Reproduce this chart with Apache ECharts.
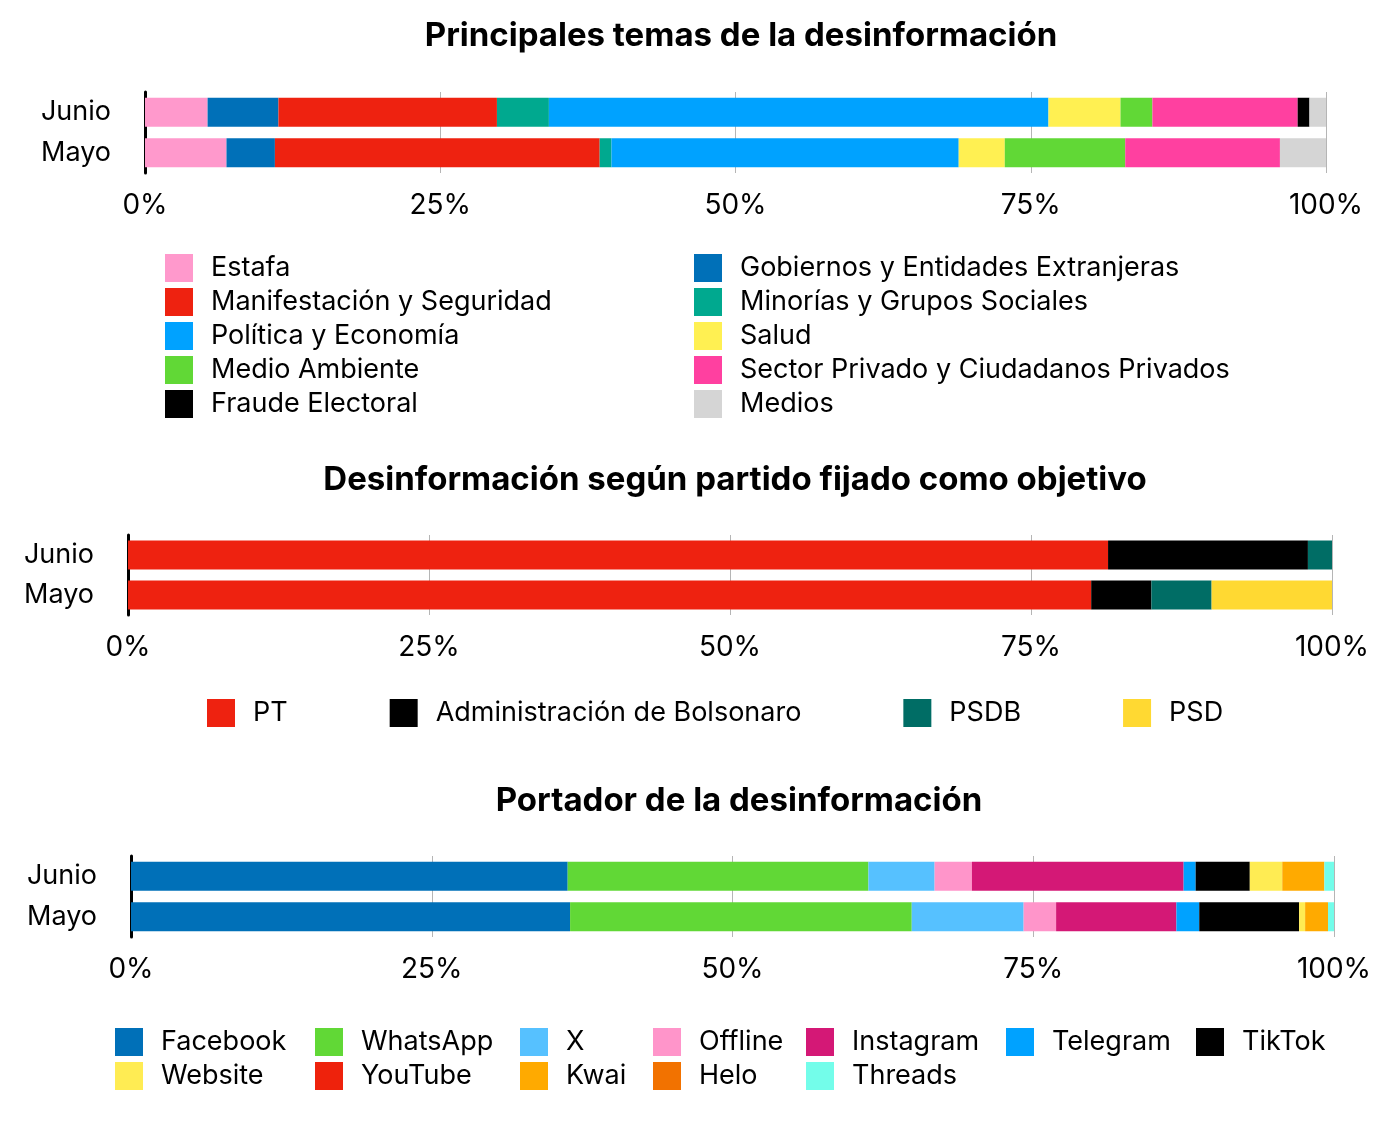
<!DOCTYPE html>
<html>
<head>
<meta charset="utf-8">
<script src="https://cdn.jsdelivr.net/npm/echarts@6/dist/echarts.min.js"></script>
<style>
  html, body { margin: 0; padding: 0; background: #fff; }
  #main { width: 1400px; height: 1122px; }
</style>
</head>
<body>
<div id="main"></div>
<script>
var months = ['Junio', 'Mayo'];
var ticks = [0, 25, 50, 75, 100];

// Principales temas
var temaNames = ['Estafa', 'Gobiernos y Entidades Extranjeras', 'Manifestación y Seguridad',
  'Minorías y Grupos Sociales', 'Política y Economía', 'Salud', 'Medio Ambiente',
  'Sector Privado y Ciudadanos Privados', 'Fraude Electoral', 'Medios'];
var temaColors = ['#ff99cc', '#0070b8', '#ee2210', '#00a98f', '#00a2ff', '#fff052',
  '#61d836', '#ff40a0', '#000000', '#d5d5d5'];
var temaJunio = [5.3, 6.0, 18.5, 4.4, 42.3, 6.1, 2.7, 12.3, 1.0, 1.4];
var temaMayo = [6.9, 4.1, 27.5, 1.0, 29.4, 3.9, 10.2, 13.1, 0, 3.9];

// Partido fijado como objetivo
var partidoNames = ['PT', 'Administración de Bolsonaro', 'PSDB', 'PSD'];
var partidoColors = ['#ee2210', '#000000', '#006d65', '#ffd932'];
var partidoJunio = [81.4, 16.6, 2.0, 0];
var partidoMayo = [80.0, 5.0, 5.0, 10.0];

// Portador
var portadorNames = ['Facebook', 'WhatsApp', 'X', 'Offline', 'Instagram', 'Telegram', 'TikTok',
  'Website', 'YouTube', 'Kwai', 'Helo', 'Threads'];
var portadorColors = ['#0070b8', '#61d836', '#56c1ff', '#ff95ca', '#d41876', '#00a2ff', '#000000',
  '#ffec53', '#ee220c', '#ffaa00', '#f27200', '#73fdea'];
var portadorJunio = [36.3, 25.0, 5.5, 3.1, 17.6, 1.0, 4.5, 2.7, 0, 3.5, 0, 0.8];
var portadorMayo = [36.5, 28.4, 9.3, 2.7, 10.0, 1.9, 8.3, 0.5, 0, 1.9, 0, 0.5];

var FONT = 'Inter';

var dom = document.getElementById('main');
var myChart = echarts.init(dom, null, { renderer: 'canvas' });

function makeXAxis(gridIndex) {
  return {
    type: 'value', gridIndex: gridIndex, min: ticks[0], max: ticks[ticks.length - 1], interval: 25,
    axisLine: { show: false }, axisTick: { show: false },
    splitLine: { show: true, lineStyle: { color: '#b5b5b5', width: 1 } },
    axisLabel: { formatter: '{value}%', fontSize: 28, color: '#000', fontFamily: FONT, margin: 19 }
  };
}
function makeYAxis(gridIndex) {
  return {
    type: 'category', gridIndex: gridIndex, data: months, inverse: true,
    axisTick: { show: false },
    axisLine: { show: true, lineStyle: { color: '#000', width: 3 } },
    axisLabel: { fontSize: 27, color: '#000', fontFamily: FONT, margin: 34 }
  };
}
function makeSeries(names, colors, junio, mayo, idx, stack) {
  return names.map(function (n, i) {
    return {
      name: n, type: 'bar', stack: stack, xAxisIndex: idx, yAxisIndex: idx,
      barWidth: 29, itemStyle: { color: colors[i] },
      emphasis: { disabled: true },
      data: [junio[i], mayo[i]]
    };
  });
}
var legendText = { fontSize: 27, color: '#000', fontFamily: FONT, padding: [0, 0, 0, 13] };
function makeLegend(data, left, top, orient) {
  return {
    data: data, left: left, top: top, orient: orient || 'vertical',
    itemWidth: 28, itemHeight: 28, itemGap: 6, icon: 'rect', padding: 0,
    selectedMode: false, textStyle: legendText
  };
}

var titleStyle = { fontSize: 33, fontWeight: 'bold', color: '#000', fontFamily: FONT };

var option = {
  animation: false,
  title: [
    { text: 'Principales temas de la desinformación', left: 736, top: 15, textAlign: 'center', textStyle: titleStyle },
    { text: 'Desinformación según partido fijado como objetivo', left: 730, top: 459, textAlign: 'center', textStyle: titleStyle },
    { text: 'Portador de la desinformación', left: 734, top: 780, textAlign: 'center', textStyle: titleStyle }
  ],
  grid: [
    { left: 145, right: 74, top: 92, height: 81 },
    { left: 128, right: 68, top: 535, height: 80 },
    { left: 131, right: 66, top: 856, height: 81 }
  ],
  xAxis: [makeXAxis(0), makeXAxis(1), makeXAxis(2)],
  yAxis: [makeYAxis(0), makeYAxis(1), makeYAxis(2)],
  legend: [
    makeLegend([temaNames[0], temaNames[2], temaNames[4], temaNames[6], temaNames[8]], 165, 254),
    makeLegend([temaNames[1], temaNames[3], temaNames[5], temaNames[7], temaNames[9]], 694, 254),
    Object.assign(makeLegend(partidoNames, 207, 699, 'horizontal'), { itemGap: 102 }),
    makeLegend(['Facebook', 'Website'], 115, 1028),
    makeLegend(['WhatsApp', 'YouTube'], 315, 1028),
    makeLegend(['X', 'Kwai'], 520, 1028),
    makeLegend(['Offline', 'Helo'], 653, 1028),
    makeLegend(['Instagram', 'Threads'], 806, 1028),
    makeLegend(['Telegram'], 1006, 1028),
    makeLegend(['TikTok'], 1196, 1028)
  ],
  series: [].concat(
    makeSeries(temaNames, temaColors, temaJunio, temaMayo, 0, 'temas'),
    makeSeries(partidoNames, partidoColors, partidoJunio, partidoMayo, 1, 'partido'),
    makeSeries(portadorNames, portadorColors, portadorJunio, portadorMayo, 2, 'portador')
  )
};

if (option && typeof option === 'object') {
  myChart.setOption(option);
}

window.addEventListener('resize', myChart.resize);
</script>
</body>
</html>
